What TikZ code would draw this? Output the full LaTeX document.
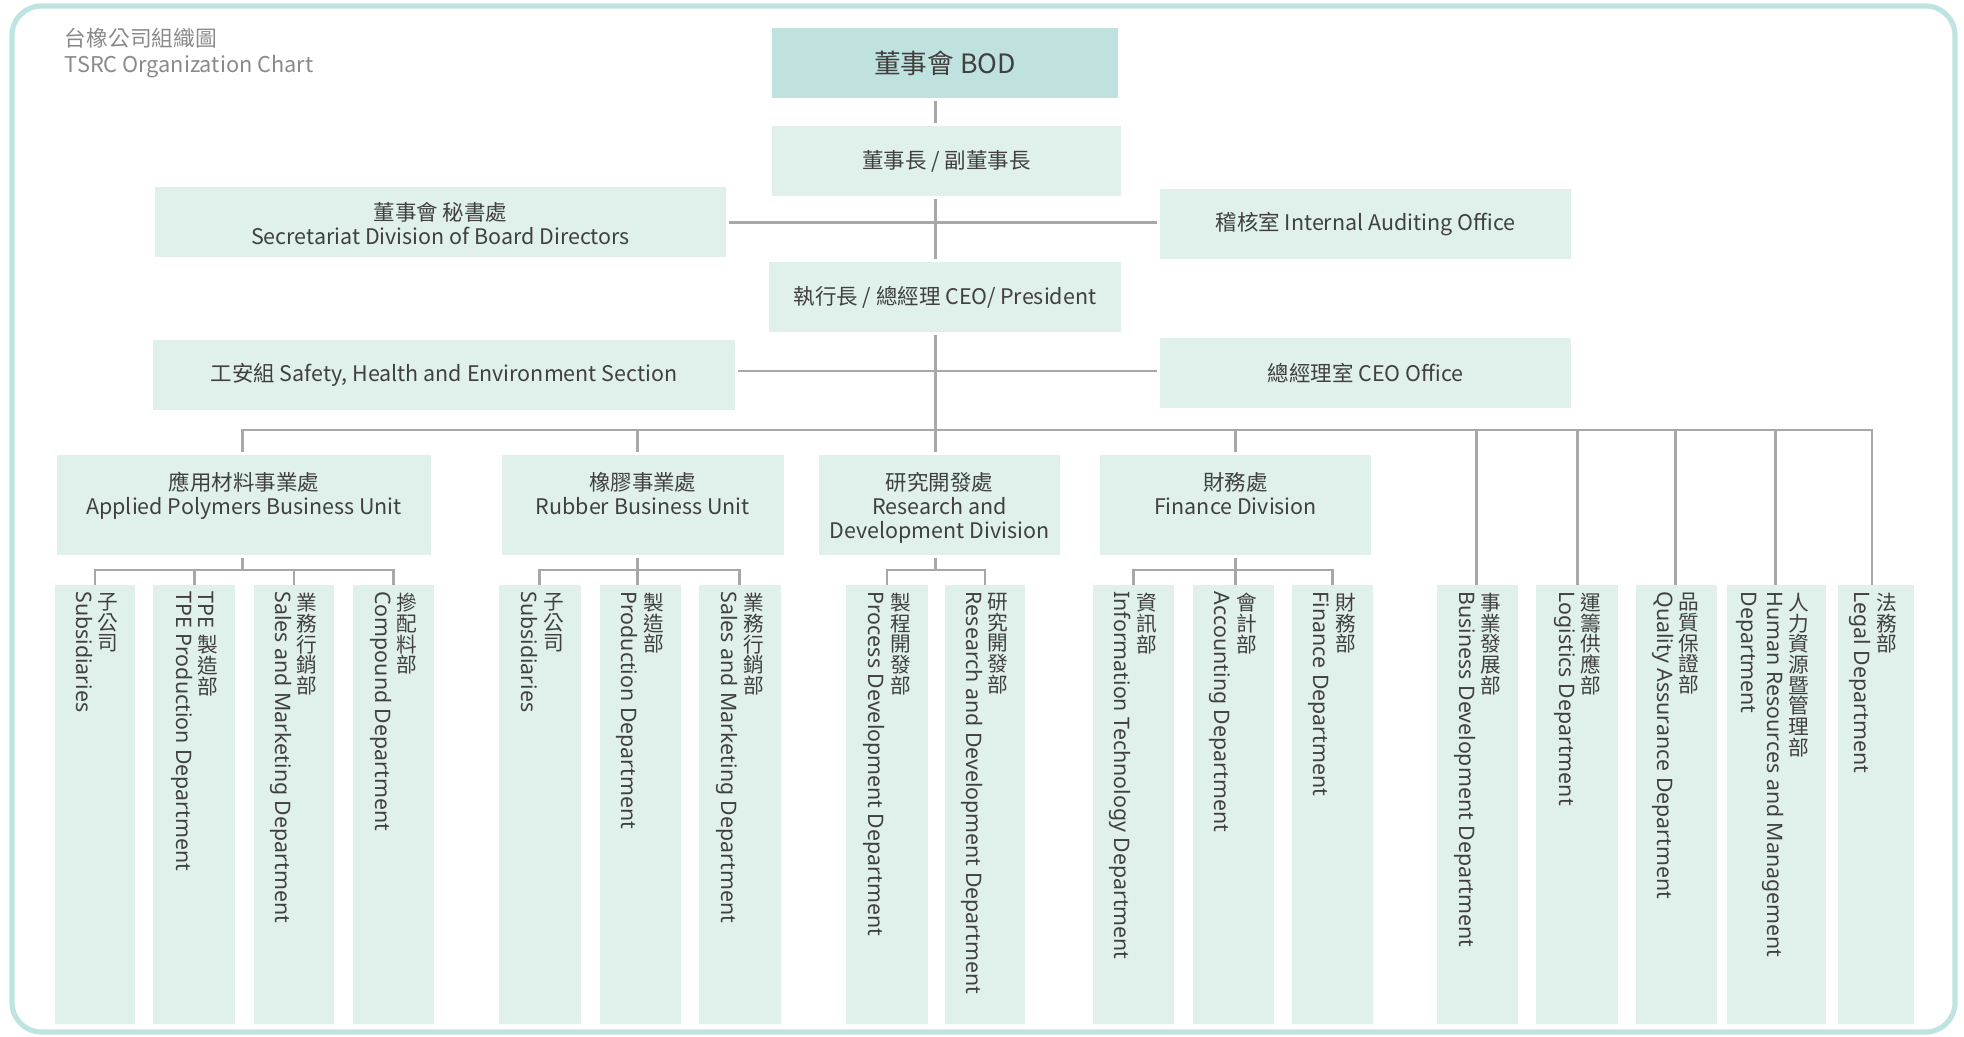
\documentclass[tikz,border=0pt]{standalone}
\usepackage{fontspec}
\setmainfont{Noto Sans CJK TC}
\newfontfamily\enfont{Noto Sans}
\newfontfamily\cjkfont{Noto Sans CJK TC}
\usetikzlibrary{fit,calc}
\definecolor{boxfill}{HTML}{E0F0EB}
\definecolor{bodfill}{HTML}{BFE2DF}
\definecolor{framec}{HTML}{BFE3E0}
\definecolor{linec}{HTML}{A8A8A8}
\definecolor{txt}{HTML}{404040}
\definecolor{titlec}{HTML}{8A8A8A}
\newcommand{\dept}[5]{%
  \node[deptbox, fit={(#2,585) (#3,1024)}] (#1) {};
  \node[vcjk] (#1c) at ($(#1.north east)+(-27.5,8.3)$) {#4};
  \node[ventxt] (#1e) at ($(#1.north east)+(-59,6.5)$) {#5};
}
\begin{document}
\begin{tikzpicture}[x=0.75pt,y=-0.75pt,
  hbox/.style={fill=boxfill, inner sep=0pt},
  bodbox/.style={fill=bodfill, inner sep=0pt},
  htxt/.style={inner sep=0pt, text=txt, align=center, font=\fontsize{16.1pt}{18pt}\selectfont},
  bodtxt/.style={htxt, font=\fontsize{20pt}{24pt}\selectfont},
  deptbox/.style={fill=boxfill, inner sep=0pt},
  conn/.style={draw=linec, line width=2.1pt},
  gap/.style={shorten <=1.8pt, shorten >=1.8pt},
  ventxt/.style={rotate=-90, anchor=base west, inner sep=0pt, text=txt, font=\enfont\fontsize{16pt}{19pt}\selectfont},
  vcjk/.style={anchor=north, inner sep=0pt, align=center, text=txt, font=\cjkfont\fontsize{15.5pt}{15.5pt}\selectfont},
  ttl/.style={anchor=base west, inner sep=0pt, text=titlec, font=\fontsize{16.3pt}{19pt}\selectfont},
]
\useasboundingbox (0,0) rectangle (1964,1037);
\draw[framec, line width=3.9pt, rounded corners=22pt] (12,6) rectangle (1955,1032);

% title
\node[ttl] (t1) at (64.7,47) {台橡公司組織圖};
\node[ttl] (t2) at (64.7,72.5) {TSRC Organization Chart};

% top boxes
\node[bodbox, fit={(772,28) (1118,98)}] (bod) {};
\node[bodtxt] (bodt) at (bod.center) {董事會 BOD};
\node[hbox, fit={(772,126) (1121,196)}] (chair) {};
\node[htxt] (chairt) at (chair.center) {董事長 / 副董事長};
\node[hbox, fit={(155,187) (726,257)}] (sec) {};
\node[htxt] (sect) at ($(sec.center)+(0,1.5)$) {董事會 秘書處\\Secretariat Division of Board Directors};
\node[hbox, fit={(1160,189) (1571,259)}] (audit) {};
\node[htxt] (auditt) at (audit.center) {稽核室 Internal Auditing Office};
\node[hbox, fit={(769,262) (1121,332)}] (ceo) {};
\node[htxt] (ceot) at (ceo.center) {執行長 / 總經理 CEO/ President};
\node[hbox, fit={(153,340) (735,410)}] (safety) {};
\node[htxt] (safetyt) at (safety.center) {工安組 Safety, Health and Environment Section};
\node[hbox, fit={(1160,338) (1571,408)}] (ceooff) {};
\node[htxt] (ceoofft) at (ceooff.center) {總經理室 CEO Office};

% division boxes
\node[deptbox, fit={(57,455) (431,555)}] (apbu) {};
\node[htxt, anchor=north] (apbut) at ($(apbu.north)+(0,17)$) {應用材料事業處\\Applied Polymers Business Unit};
\node[deptbox, fit={(501.5,455) (784,555)}] (rubber) {};
\node[htxt, anchor=north] (rubbert) at ($(rubber.north)+(0,17)$) {橡膠事業處\\Rubber Business Unit};
\node[deptbox, fit={(819,455) (1060,555)}] (rnd) {};
\node[htxt, anchor=north] (rndt) at ($(rnd.north)+(0,17)$) {研究開發處\\Research and\\Development Division};
\node[deptbox, fit={(1100,455) (1371,555)}] (fin) {};
\node[htxt, anchor=north] (fint) at ($(fin.north)+(0,17)$) {財務處\\Finance Division};

% vertical departments
\dept{a1}{54.6}{135.2}{子\\公\\司}{Subsidiaries}
\node[deptbox, fit={(153.1,585) (235.2,1024)}] (a2) {};
\node[ventxt] (a2t) at ($(a2.north east)+(-37.4,6.5)$) {TPE};
\node[vcjk] (a2c) at ($(a2.north east)+(-27.5,50.5)$) {製\\造\\部};
\node[ventxt] (a2e) at ($(a2.north east)+(-59,6.5)$) {TPE Production Department};
\dept{a3}{253.6}{334.2}{業\\務\\行\\銷\\部}{Sales and Marketing Department}
\dept{a4}{353.1}{434.2}{摻\\配\\料\\部}{Compound Department}
\dept{r1}{499}{580.6}{子\\公\\司}{Subsidiaries}
\dept{r2}{599.5}{680.6}{製\\造\\部}{Production Department}
\dept{r3}{699}{780.6}{業\\務\\行\\銷\\部}{Sales and Marketing Department}
\dept{d1}{846.4}{927.7}{製\\程\\開\\發\\部}{Process Development Department}
\dept{d2}{944.6}{1025.4}{研\\究\\開\\發\\部}{Research and Development Department}
\dept{f1}{1092.8}{1173.6}{資\\訊\\部}{Information Technology Department}
\dept{f2}{1192.8}{1273.6}{會\\計\\部}{Accounting Department}
\dept{f3}{1291.9}{1372.7}{財\\務\\部}{Finance Department}
\dept{s1}{1437}{1518}{事\\業\\發\\展\\部}{Business Development Department}
\dept{s2}{1536}{1618}{運\\籌\\供\\應\\部}{Logistics Department}
\dept{s3}{1636}{1716.5}{品\\質\\保\\證\\部}{Quality Assurance Department}
\dept{s4}{1727}{1826}{人\\力\\資\\源\\暨\\管\\理\\部}{Human Resources and Management}
\node[ventxt] (s4e2) at ($(s4.north east)+(-84.5,6.5)$) {Department};
\dept{s5}{1838}{1913.6}{法\\務\\部}{Legal Department}

% reference coordinates
\coordinate (tr) at (935.5,0);
\coordinate (h1) at (0,222.7);
\coordinate (h2) at (0,371);
\coordinate (bus) at (0,430);
\coordinate (sb) at (0,570);
\coordinate (xa) at (242.3,0);
\coordinate (xr) at (637.8,0);
\coordinate (xf) at (1235.7,0);
\coordinate (xs1) at (1476.8,0);
\coordinate (xs2) at (1577.3,0);
\coordinate (xs3) at (1675.5,0);
\coordinate (xs4) at (1775.5,0);
\coordinate (xs5) at (1872,0);

% connectors top
\draw[conn, gap] (bod.south -| tr) -- (chair.north -| tr);
\draw[conn, gap] (chair.south -| tr) -- (ceo.north -| tr);
\draw[conn, gap] (sec.east |- h1) -- (audit.west |- h1);
\draw[conn, gap] (safety.east |- h2) -- (ceooff.west |- h2);
\draw[conn, shorten <=1.8pt, shorten >=2.4pt] (ceo.south -| tr) -- (rnd.north -| tr);
% main bus
\draw[conn, shorten <=2.4pt] (apbu.north -| xa) -- (xa |- bus) -- (xs5 |- bus) -- (s5.north -| xs5);
\draw[conn, shorten >=2.4pt] (xr |- bus) -- (rubber.north -| xr);
\draw[conn, shorten >=2.4pt] (xf |- bus) -- (fin.north -| xf);
\draw[conn] (xs1 |- bus) -- (s1.north -| xs1);
\draw[conn] (xs2 |- bus) -- (s2.north -| xs2);
\draw[conn] (xs3 |- bus) -- (s3.north -| xs3);
\draw[conn] (xs4 |- bus) -- (s4.north -| xs4);

% APBU subtree
\draw[conn, shorten <=2.4pt] (apbu.south -| xa) -- (xa |- sb);
\draw[conn] (a1.north) -- (a1.north |- sb) -- (a4.north |- sb) -- (a4.north);
\draw[conn] (a2.north |- sb) -- (a2.north);
\draw[conn] (a3.north |- sb) -- (a3.north);
% Rubber subtree
\draw[conn, shorten <=2.4pt] (rubber.south -| xr) -- (r2.north -| xr);
\draw[conn] (r1.north) -- (r1.north |- sb) -- (r3.north |- sb) -- (r3.north);
% R&D subtree
\draw[conn, shorten <=2.4pt] (rnd.south -| tr) -- (tr |- sb);
\draw[conn] (d1.north) -- (d1.north |- sb) -- (d2.north |- sb) -- (d2.north);
% Finance subtree
\draw[conn, shorten <=2.4pt] (fin.south -| xf) -- (f2.north -| xf);
\draw[conn] (f1.north) -- (f1.north |- sb) -- (f3.north |- sb) -- (f3.north);
\end{tikzpicture}
\end{document}
